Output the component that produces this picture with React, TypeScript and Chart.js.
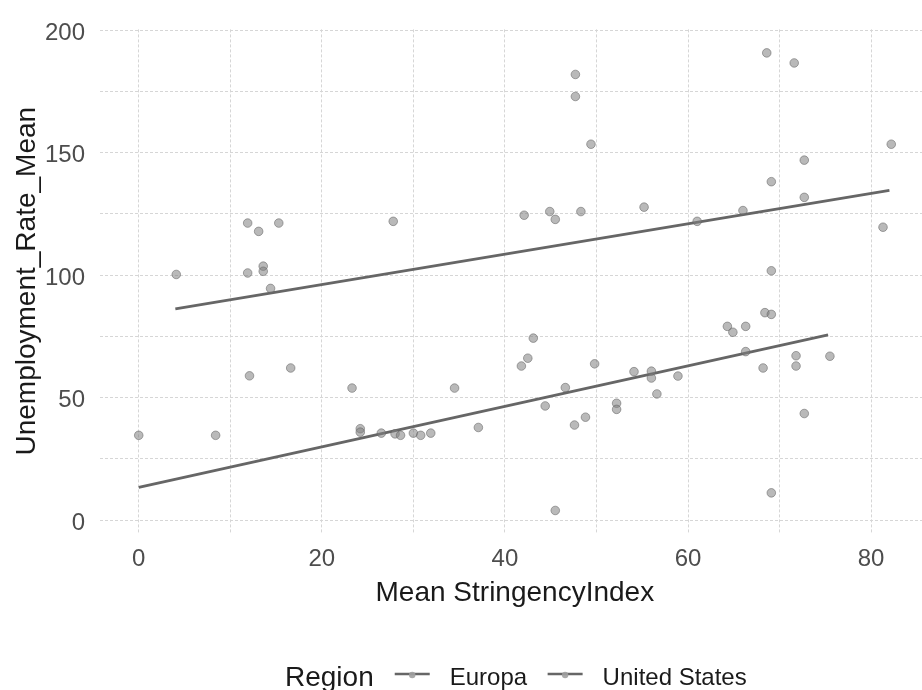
import React, { useEffect, useRef } from 'react';
import { Chart, registerables } from 'chart.js';

Chart.register(...registerables);

// ---- data ----
const europaX = [0, 8.4, 12.1, 16.6, 23.3, 24.2, 24.2, 26.5, 28.0, 28.6, 30.0, 30.8, 31.9, 34.5, 37.1, 41.8, 42.5, 43.1, 44.4, 45.5, 46.6, 47.6, 48.8, 49.8, 52.2, 52.2, 54.1, 56.0, 56.0, 56.6, 58.9, 64.3, 64.9, 66.3, 66.3, 68.2, 68.4, 69.1, 69.1, 71.8, 71.8, 72.7, 75.5];
const europaY = [34.6, 34.6, 58.9, 62.1, 53.9, 37.3, 35.9, 35.5, 35.2, 34.6, 35.5, 34.6, 35.5, 53.9, 37.8, 62.9, 66.1, 74.3, 46.6, 3.9, 54.1, 38.8, 42.0, 63.8, 47.7, 45.2, 60.6, 60.8, 58.0, 51.5, 58.8, 79.1, 76.7, 79.1, 68.8, 62.1, 84.7, 84.0, 11.1, 67.1, 62.9, 43.5, 66.9];

const usX = [4.1, 11.9, 11.9, 13.1, 13.6, 13.6, 14.4, 15.3, 27.8, 42.1, 44.9, 45.5, 47.7, 47.7, 48.3, 49.4, 55.2, 61.0, 66.0, 68.6, 69.1, 69.1, 71.6, 72.7, 72.7, 81.3, 82.2];
const usY = [100.3, 121.3, 100.9, 117.9, 103.7, 101.6, 94.6, 121.3, 122.0, 124.5, 126.0, 122.8, 182.0, 173.0, 126.0, 153.5, 127.8, 122.0, 126.4, 190.8, 138.2, 101.8, 186.7, 147.0, 131.8, 119.6, 153.5];

// fitted (lm) line end points
const europaFitX = [0, 75.3];
const europaFitY = [13.3, 75.6];
const usFitX = [4.0, 82.0];
const usFitY = [86.2, 134.6];

const xTickLabels = [0, 20, 40, 60, 80];
const yTickLabels = [0, 50, 100, 150, 200];
const seriesNames = ['Europa', 'United States'];
const legendTitle = 'Region';
const xTitle = 'Mean StringencyIndex';
const yTitle = 'Unemployment_Rate_Mean';

// ---- styles ----
const FONT = "'Liberation Sans', Arial, Helvetica, sans-serif";
const POINT_FILL = 'rgba(128,128,128,0.55)';
const POINT_BORDER = 'rgba(100,100,100,0.55)';
const LINE_COLOR = '#666666';
const GRID_COLOR = '#d6d6d6';
const TICK_COLOR = '#4d4d4d';
const TEXT_COLOR = '#1a1a1a';

const toPoints = (xs: number[], ys: number[]) => xs.map((x, i) => ({ x, y: ys[i] }));

const near = (list: number[], v: number) => list.some((t) => Math.abs(t - v) < 1e-6);

const legendPlugin = {
  id: 'ggLegend',
  afterDraw(chart: any) {
    const ctx = chart.ctx as CanvasRenderingContext2D;
    ctx.save();
    ctx.textAlign = 'left';
    ctx.textBaseline = 'alphabetic';
    ctx.fillStyle = TEXT_COLOR;
    ctx.font = `28px ${FONT}`;
    let x = 285;
    ctx.fillText(legendTitle, x, 686);
    x += ctx.measureText(legendTitle).width + 21;
    ctx.font = `24px ${FONT}`;
    seriesNames.forEach((name) => {
      ctx.strokeStyle = LINE_COLOR;
      ctx.lineWidth = 2.5;
      ctx.beginPath();
      ctx.moveTo(x, 674);
      ctx.lineTo(x + 35, 674);
      ctx.stroke();
      ctx.beginPath();
      ctx.arc(x + 17.5, 675, 3.2, 0, Math.PI * 2);
      ctx.fillStyle = 'rgba(160,160,160,0.9)';
      ctx.fill();
      x += 35 + 20;
      ctx.fillStyle = TEXT_COLOR;
      ctx.fillText(name, x, 685);
      x += ctx.measureText(name).width + 20.5;
    });
    ctx.restore();
  },
};

export default function App() {
  const canvasRef = useRef<HTMLCanvasElement | null>(null);

  useEffect(() => {
    const canvas = canvasRef.current;
    if (!canvas) return;

    const pointStyle = {
      type: 'scatter' as const,
      showLine: false,
      pointRadius: 4.3,
      pointHoverRadius: 4.3,
      pointBorderWidth: 1,
      pointBackgroundColor: POINT_FILL,
      pointBorderColor: POINT_BORDER,
      backgroundColor: POINT_FILL,
      borderColor: POINT_BORDER,
    };
    const lineStyle = {
      type: 'scatter' as const,
      showLine: true,
      pointRadius: 0,
      borderColor: LINE_COLOR,
      borderWidth: 2.8,
      backgroundColor: LINE_COLOR,
      fill: false,
    };

    const chart = new Chart(canvas, {
      type: 'scatter',
      data: {
        datasets: [
          { label: seriesNames[0], data: toPoints(europaX, europaY), ...pointStyle },
          { label: seriesNames[1], data: toPoints(usX, usY), ...pointStyle },
          { label: seriesNames[0] + ' fit', data: toPoints(europaFitX, europaFitY), ...lineStyle },
          { label: seriesNames[1] + ' fit', data: toPoints(usFitX, usFitY), ...lineStyle },
        ],
      },
      options: {
        animation: false,
        responsive: false,
        devicePixelRatio: 1,
        layout: { padding: { top: 27, left: 0, right: 0, bottom: 0 } },
        plugins: {
          legend: { display: false },
          tooltip: { enabled: false },
          title: { display: false },
        },
        scales: {
          x: {
            type: 'linear',
            min: -4.23,
            max: 86.4,
            border: { display: false, dash: [3, 2] },
            grid: { color: GRID_COLOR, lineWidth: 1, drawTicks: false, tickLength: 0 },
            ticks: {
              stepSize: 10,
              includeBounds: false,
              autoSkip: false,
              maxRotation: 0,
              minRotation: 0,
              padding: 12,
              color: TICK_COLOR,
              font: { family: FONT, size: 24 },
              callback: (v: any) => (near(xTickLabels, Number(v)) ? String(Math.round(Number(v))) : ''),
            },
            title: {
              display: true,
              text: xTitle,
              color: TEXT_COLOR,
              font: { family: FONT, size: 28 },
              padding: { top: 0, bottom: 80 },
            },
            afterFit: (scale: any) => {
              scale.height = 157;
            },
          },
          y: {
            type: 'linear',
            min: -5.3,
            max: 200.4,
            border: { display: false, dash: [3, 2] },
            grid: { color: GRID_COLOR, lineWidth: 1, drawTicks: false, tickLength: 0 },
            ticks: {
              stepSize: 25,
              includeBounds: false,
              autoSkip: false,
              padding: 15,
              labelOffset: 3,
              color: TICK_COLOR,
              font: { family: FONT, size: 24 },
              callback: (v: any) => (near(yTickLabels, Number(v)) ? String(Math.round(Number(v))) : ''),
            },
            title: {
              display: true,
              text: yTitle,
              color: TEXT_COLOR,
              font: { family: FONT, size: 28 },
              padding: { top: 10, bottom: 0 },
            },
            afterFit: (scale: any) => {
              scale.width = 100;
            },
          },
        },
      },
      plugins: [legendPlugin],
    });

    return () => {
      chart.destroy();
    };
  }, []);

  return (
    <div
      style={{
        position: 'fixed',
        left: 0,
        top: 0,
        width: 922,
        height: 690,
        overflow: 'hidden',
        background: '#ffffff',
      }}
    >
      <canvas
        ref={canvasRef}
        width={935}
        height={690}
        style={{ display: 'block', width: 935, height: 690 }}
      />
    </div>
  );
}
